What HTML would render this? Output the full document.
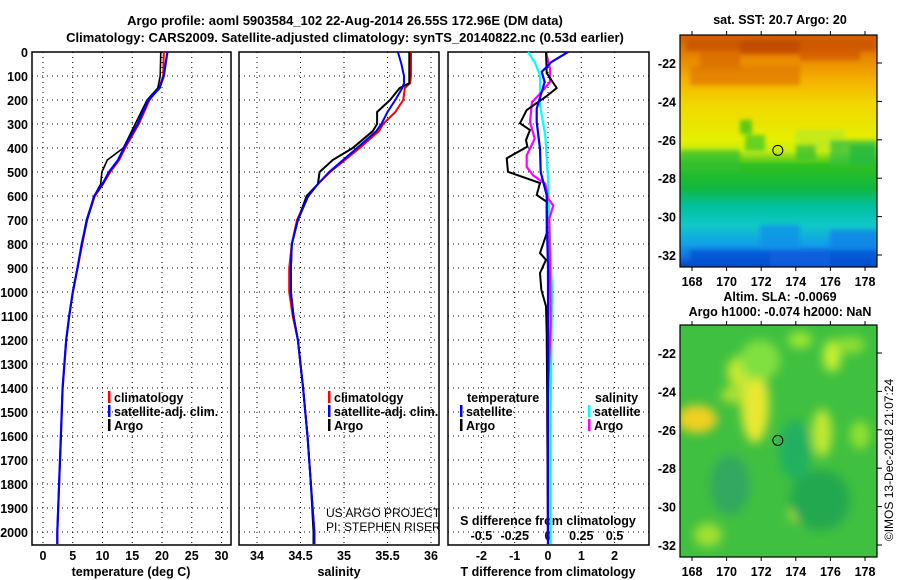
<!DOCTYPE html>
<html><head><meta charset="utf-8">
<style>
html,body{margin:0;padding:0;background:#fff;}
svg{display:block;font-family:"Liberation Sans",sans-serif;}
.b{font-weight:bold;font-size:13px;}
.t{font-weight:bold;font-size:12.5px;}
</style></head>
<body>
<svg id="fig" width="900" height="580" viewBox="0 0 900 580" xmlns="http://www.w3.org/2000/svg">
<defs>
<linearGradient id="sstg" x1="0" y1="0" x2="0" y2="1">
<stop offset="0" stop-color="#d06000"/><stop offset="0.1" stop-color="#e88800"/>
<stop offset="0.2" stop-color="#f5b400"/><stop offset="0.3" stop-color="#f0d800"/>
<stop offset="0.45" stop-color="#e4f000"/><stop offset="0.5" stop-color="#c8ec10"/>
<stop offset="0.56" stop-color="#30c020"/><stop offset="0.66" stop-color="#10b840"/>
<stop offset="0.74" stop-color="#00c0a0"/><stop offset="0.82" stop-color="#10c8c8"/>
<stop offset="0.9" stop-color="#10a0e8"/><stop offset="0.96" stop-color="#1070e0"/>
<stop offset="1" stop-color="#0040c0"/></linearGradient>
<filter id="blur" x="-50%" y="-50%" width="200%" height="200%"><feGaussianBlur stdDeviation="5"/></filter>
<filter id="blur2" x="-20%" y="-20%" width="140%" height="140%"><feGaussianBlur stdDeviation="2"/></filter>
<clipPath id="m1c"><rect x="680" y="35" width="197" height="232"/></clipPath>
<clipPath id="m2c"><rect x="680" y="325" width="197" height="232"/></clipPath>
</defs>
<text class="b" x="345" y="25" text-anchor="middle">Argo profile: aoml 5903584_102 22-Aug-2014 26.55S 172.96E (DM data)</text>
<text class="b" x="345" y="42" text-anchor="middle">Climatology: CARS2009. Satellite-adjusted climatology: synTS_20140822.nc (0.53d earlier)</text>
<g id="panels"></g>
<g id="maps"></g>
<text class="t" x="0" y="0" transform="translate(893,460) rotate(-90)" text-anchor="middle" style="font-weight:normal;font-size:12px">©IMOS 13-Dec-2018 21:07:24</text>
</svg>
<script>
// ---- data ----
const depthTicks=[0,100,200,300,400,500,600,700,800,900,1000,1100,1200,1300,1400,1500,1600,1700,1800,1900,2000];
const tempTicks=[0,5,10,15,20,25,30];
const salTicks=[34,34.5,35,35.5,36];
const tdTicks=[-2,-1,0,1,2];
const sdTickLabels=["-0.5","-0.25","0","0.25","0.5"];
const tempArgoD=[0,100,150,200,300,400,450,500,550,600,700,800,900,1000,1100,1200,1400,1600,1800,2000,2050];
const tempArgo=[19.8,19.7,19.3,17.5,15.5,13.5,10.8,9.9,9.7,8.6,7.3,6.5,5.8,5.0,4.4,3.9,3.3,3.0,2.7,2.4,2.4];
const tempClimD=[0,100,150,200,300,400,450,500,550,600,700,800,900,1000,1100,1200,1400,1600,1800,2000,2050];
const tempClim=[20.3,20.2,19.5,17.9,16.1,13.8,12.8,11.3,10.1,8.7,7.4,6.6,5.8,5.0,4.4,3.9,3.3,3.0,2.7,2.4,2.4];
const tempSat=[20.9,20.3,19.6,17.7,15.9,13.6,12.6,11.1,10.0,8.6,7.4,6.5,5.8,5.0,4.4,3.9,3.3,3.0,2.7,2.4,2.4];
const salD=[0,50,100,130,150,200,250,300,330,400,450,500,550,600,700,800,900,1000,1100,1200,1400,1600,1800,2000,2050];
const salArgo=[35.75,35.75,35.75,35.75,35.64,35.53,35.38,35.38,35.33,35.10,34.87,34.72,34.70,34.57,34.47,34.40,34.39,34.39,34.42,34.47,34.53,34.58,34.62,34.65,34.65];
const salClim=[35.77,35.77,35.77,35.76,35.70,35.68,35.59,35.45,35.40,35.18,35.01,34.84,34.70,34.59,34.46,34.40,34.37,34.37,34.41,34.47,34.53,34.58,34.62,34.66,34.66];
const salSat=[35.62,35.66,35.69,35.69,35.67,35.59,35.50,35.43,35.37,35.15,34.99,34.83,34.70,34.59,34.47,34.40,34.39,34.39,34.42,34.47,34.53,34.58,34.62,34.66,34.66];
const tdArgoD=[0,88,150,186,242,283,297,325,367,394,443,499,546,596,624,756,838,866,921,990,1060,1170,1500,2050];
const tdArgo=[-0.06,-0.04,0.26,-0.06,-0.64,-0.79,-0.84,-0.54,-0.66,-0.62,-1.24,-1.2,-0.24,-0.34,-0.04,-0.04,-0.24,-0.06,-0.24,-0.2,-0.06,-0.04,-0.02,0];
const sdArgoD=[0,70,125,174,208,292,361,431,479,514,549,611,639,694,916,1125,1500,2050];
const sdArgo=[-0.015,0.015,0.015,-0.06,-0.12,-0.135,-0.1,-0.16,-0.16,-0.11,-0.02,0,0.04,0.01,0.015,0.02,-0.005,0];
const tdSatD=[0,42,83,125,236,292,403,500,597,783,900,1500,2050];
const tdSat=[0.6,0.1,-0.19,-0.1,-0.34,-0.34,-0.24,-0.22,-0.04,-0.02,0,0,0];
const sdSatD=[0,42,97,222,347,528,778,986,1500,2050];
const sdSat=[-0.15,-0.1,-0.06,-0.06,-0.02,0,0.015,0.03,0.02,0.02];
const latTicks=[-22,-24,-26,-28,-30,-32];
const lonTicks=[168,170,172,174,176,178];

// ---- scales ----
const NS='http://www.w3.org/2000/svg';
const yD=d=>52+d*0.24;
const PX=[{x0:32,x1:231},{x0:239,x1:439},{x0:448,x1:649}];
const xT=t=>43+5.95*t;
const xS=s=>257+87*(s-34);
const xTD=t=>548+33.3*t;
const xSD=s=>548+133.2*s;
const lonX=l=>692+17.3*(l-168);
const latY=l=>63-19.2*(l+22);
function el(tag,attrs,parent){const e=document.createElementNS(NS,tag);for(const k in attrs)e.setAttribute(k,attrs[k]);parent.appendChild(e);return e;}
const P=document.getElementById('panels');

function line(xs,ds,fx,color,w,name,g){
  const pts=xs.map((v,i)=>fx(v).toFixed(1)+','+yD(ds[i]).toFixed(1)).join(' ');
  const p=el('polyline',{points:pts,fill:'none',stroke:color,'stroke-width':w,'stroke-linejoin':'miter'},g);
  
  
}
function txt(s,x,y,anchor,cls,g,name,extra){
  const t=el('text',Object.assign({x:x,y:y,'text-anchor':anchor,class:cls},extra||{}),g);
  t.textContent=s;
  
  
  return t;
}

PX.forEach((p,i)=>{
  const g=el('g',{},P);
  
  
  depthTicks.forEach(d=>{
    const l=el('line',{x1:p.x0,x2:p.x1,y1:yD(d),y2:yD(d),stroke:'#000','stroke-width':1,'stroke-dasharray':'1,4'},g);
    
    
  });
  let xt=i==0?tempTicks.map(xT):i==1?salTicks.map(xS):tdTicks.map(xTD);
  xt.forEach(x=>{
    const l=el('line',{x1:x,x2:x,y1:52,y2:545,stroke:'#000','stroke-width':1,'stroke-dasharray':'1,4'},g);
    
    
  });
  const r=el('rect',{x:p.x0,y:52,width:p.x1-p.x0,height:493,fill:'none',stroke:'#000','stroke-width':1.5},g);
  
  
});
depthTicks.forEach(d=>txt(String(d),28,yD(d)+5,'end','t',P,'depth-tick-label'));
tempTicks.forEach(t=>txt(String(t),xT(t),560,'middle','t',P,'temp-tick-label'));
salTicks.forEach(s=>txt(String(s),xS(s),560,'middle','t',P,'sal-tick-label'));
tdTicks.forEach(t=>txt(String(t),xTD(t),560,'middle','t',P,'tdiff-tick-label'));
txt('temperature (deg C)',131,576,'middle','t',P,'x-axis-title-temperature');
txt('salinity',339,576,'middle','t',P,'x-axis-title-salinity');
txt('T difference from climatology',548,576,'middle','t',P,'x-axis-title-tdiff');
txt('S difference from climatology',548,525,'middle','t',P,'s-diff-axis-title');
[-0.5,-0.25,0,0.25,0.5].forEach((s,i)=>txt(sdTickLabels[i],xSD(s),540,'middle','t',P,'sdiff-tick-label'));

line(tempClim,tempClimD,xT,'#ff0000',2,'temp-climatology-line',P);
line(tempArgo,tempArgoD,xT,'#000',1.6,'temp-argo-line',P);
line(tempSat,tempClimD,xT,'#0000ff',2.2,'temp-satellite-line',P);
line(salClim,salD,xS,'#ff0000',2,'sal-climatology-line',P);
line(salArgo,salD,xS,'#000',2,'sal-argo-line',P);
line(salSat,salD,xS,'#0000ff',2,'sal-satellite-line',P);
line(sdSat,sdSatD,xSD,'#00ffff',2.2,'sdiff-satellite-line',P);
line(sdArgo,sdArgoD,xSD,'#ff00ff',2.2,'sdiff-argo-line',P);
line(tdArgo,tdArgoD,xTD,'#000',2,'tdiff-argo-line',P);
line(tdSat,tdSatD,xTD,'#0000ff',2.2,'tdiff-satellite-line',P);

function leg(x,y,color,label,name){
  const m=el('rect',{x:x,y:y-11,width:2.5,height:12,fill:color},P);
  
  
  txt(label,x+6,y,'start','t',P,name);
}
[[108,'#ff0000','climatology'],[108,'#0000ff','satellite-adj. clim.'],[108,'#000','Argo']].forEach((a,i)=>leg(a[0],402+i*14,a[1],a[2],'temp-legend-entry'));
[[328,'#ff0000','climatology'],[328,'#0000ff','satellite-adj. clim.'],[328,'#000','Argo']].forEach((a,i)=>leg(a[0],402+i*14,a[1],a[2],'sal-legend-entry'));
txt('temperature',467,402,'start','t',P,'diff-legend-temperature-header');
txt('salinity',595,402,'start','t',P,'diff-legend-salinity-header');
leg(460,416,'#0000ff','satellite','diff-legend-t-satellite');
leg(460,430,'#000','Argo','diff-legend-t-argo');
leg(588,416,'#00ffff','satellite','diff-legend-s-satellite');
leg(588,430,'#ff00ff','Argo','diff-legend-s-argo');
txt('US ARGO PROJECT',326,517,'start','',P,'project-credit',{style:'font-size:12px'});
txt('PI: STEPHEN RISER',326,531,'start','',P,'pi-credit',{style:'font-size:12px'});

// ---- maps ----
const M=document.getElementById('maps');
function mapFrame(y0,title1,title2,name){
  const g=el('g',{},M);
  
  
  if(title2){txt(title1,780,y0-24,'middle','t',g,name+'-title');txt(title2,780,y0-9,'middle','t',g,name+'-subtitle');}
  else txt(title1,780,y0-11,'middle','t',g,name+'-title');
  return {g};
}
const m1=mapFrame(35,'sat. SST: 20.7 Argo: 20',null,'sst-map');
const g1=el('g',{'clip-path':'url(#m1c)'},m1.g);
el('rect',{x:680,y:35,width:197,height:232,fill:'url(#sstg)'},g1);
const gs=el('g',{filter:'url(#blur2)'},g1);
const sstBlobs=[[686,39,190,12,'#c85000'],[700,50,40,20,'#d86800'],[740,40,60,14,'#c04800'],[800,44,60,16,'#d05a00'],[690,65,110,20,'#e07800'],[740,120,12,14,'#30c020'],[745,135,20,16,'#40c828'],[795,130,50,20,'#b8e820'],[796,145,20,15,'#30c030'],[830,140,47,25,'#30c040'],[680,150,60,22,'#30c030'],[850,145,27,20,'#20b840'],[690,250,187,17,'#0050d0'],[770,250,60,17,'#1060e0'],[760,225,40,25,'#1090e8'],[830,230,47,20,'#1080e8']];
sstBlobs.forEach(b=>{const r=el('rect',{x:b[0],y:b[1],width:b[2],height:b[3],fill:b[4],opacity:0.75},gs);});
const m2=mapFrame(325,'Altim. SLA: -0.0069','Argo h1000: -0.074 h2000: NaN','sla-map');
const g2=el('g',{'clip-path':'url(#m2c)'},m2.g);
el('rect',{x:680,y:325,width:197,height:232,fill:'#40c040'},g2);
const gb=el('g',{filter:'url(#blur)'},g2);
const slaBlobs=[[697,419,20,14,'#f0d020'],[755,405,14,38,'#e8e830'],[741,372,14,16,'#c8e830'],[733,395,12,8,'#b0e030'],[832,356,9,16,'#c8f030'],[822,433,10,24,'#c0e830'],[804,513,15,10,'#d0f030'],[860,435,10,14,'#90e030'],[795,450,16,30,'#20b060'],[820,500,30,30,'#20a850'],[760,360,20,20,'#80e040'],[730,485,20,30,'#30a860'],[708,535,14,12,'#a0e030'],[800,340,12,8,'#a0e830'],[850,345,15,8,'#90e030']];
slaBlobs.forEach(b=>{const r=el('ellipse',{cx:b[0],cy:b[1],rx:b[2],ry:b[3],fill:b[4]},gb);});
[[35,m1.g],[325,m2.g]].forEach(([y0,g])=>{
  const off=y0-35;
  const fr=el('rect',{x:680,y:y0,width:197,height:232,fill:'none',stroke:'#000','stroke-width':1.2},g);
  
  
  const c=el('circle',{cx:lonX(172.96),cy:latY(-26.55)+off,r:5,fill:'none',stroke:'#000','stroke-width':1},g);
  
  
  latTicks.forEach(l=>{
    const y=latY(l)+off;
    el('line',{x1:877,x2:882,y1:y,y2:y,stroke:'#000'},g);
    txt(String(l),676,y+5,'end','t',g,'lat-tick-label');
  });
  lonTicks.forEach(l=>{
    const x=lonX(l);
    el('line',{x1:x,x2:x,y1:y0,y2:y0-4,stroke:'#000'},g);
    el('line',{x1:x,x2:x,y1:y0+232,y2:y0+236,stroke:'#000'},g);
    txt(String(l),x,y0+251,'middle','t',g,'lon-tick-label');
  });
});
</script>
</body></html>
